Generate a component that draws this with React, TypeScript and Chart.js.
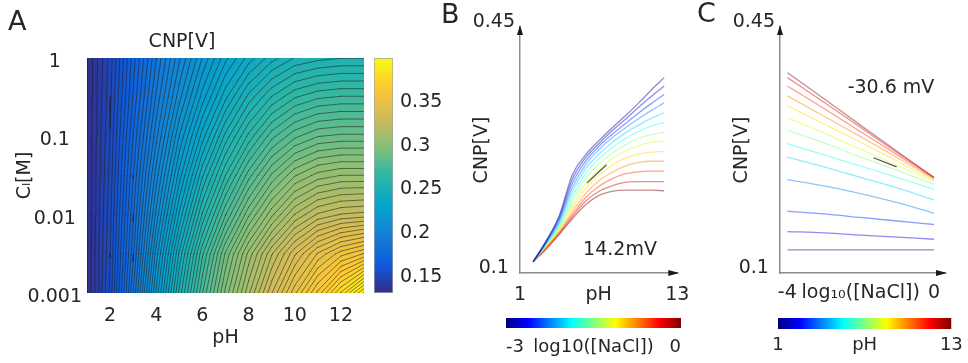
import React, { useEffect, useRef } from 'react';
import { Chart, registerables } from 'chart.js';

Chart.register(...registerables);

const FONT = "'DejaVu Sans', 'Liberation Sans', sans-serif";
const INK = '#262626';
Chart.defaults.font.family = FONT;
Chart.defaults.color = INK;

// ---------------- Panel A : CNP[V] map (pH x log10 C) ----------------
const gridPH = [1, 2, 3, 4, 5, 6, 7, 8, 9, 10, 11, 12, 13];
const gridLogC = [-3, -2.5, -2, -1.5, -1, -0.5, 0];
const mapRowLogCm30 = [0.135, 0.156, 0.188, 0.222, 0.252, 0.277, 0.298, 0.316, 0.333, 0.349, 0.364, 0.380, 0.397];
const mapRowLogCm25 = [0.135, 0.155, 0.184, 0.216, 0.245, 0.270, 0.291, 0.308, 0.323, 0.336, 0.347, 0.355, 0.360];
const mapRowLogCm20 = [0.135, 0.154, 0.181, 0.209, 0.235, 0.258, 0.277, 0.293, 0.306, 0.317, 0.324, 0.327, 0.328];
const mapRowLogCm15 = [0.135, 0.153, 0.178, 0.203, 0.226, 0.247, 0.264, 0.279, 0.291, 0.300, 0.305, 0.307, 0.307];
const mapRowLogCm10 = [0.135, 0.152, 0.175, 0.197, 0.218, 0.236, 0.252, 0.265, 0.276, 0.283, 0.287, 0.288, 0.288];
const mapRowLogCm05 = [0.135, 0.151, 0.172, 0.192, 0.210, 0.226, 0.240, 0.252, 0.261, 0.267, 0.270, 0.271, 0.271];
const mapRowLogC00 = [0.135, 0.150, 0.170, 0.188, 0.204, 0.218, 0.230, 0.239, 0.246, 0.251, 0.253, 0.254, 0.254];
const mapRows = [mapRowLogCm30, mapRowLogCm25, mapRowLogCm20, mapRowLogCm15, mapRowLogCm10, mapRowLogCm05, mapRowLogC00];
const mapColorMin = 0.132;
const mapColorMax = 0.4;
const mapContourStep = 0.0033;
const mapXTicks = [2, 4, 6, 8, 10, 12];
const mapYTicks = [0.001, 0.01, 0.1, 1];
const mapBarTicks = [0.15, 0.2, 0.25, 0.3, 0.35];
const parulaHex = ['#352a87', '#0f5cdd', '#1481d6', '#06a4ca', '#2eb7a4', '#87bf77', '#d1bb59', '#fec832', '#f9fb0e'];

// ---------------- Panel B : CNP vs pH for several [NaCl] ----------------
const phB = [2, 3, 4, 5, 6, 7, 8, 9, 10, 11, 12];
const naclLogB = [-3, -2.75, -2.5, -2.25, -2, -1.75, -1.5, -1.25, -1, -0.75, -0.5, -0.25, 0];
const cnpBm300 = [0.116, 0.146, 0.182, 0.240, 0.268, 0.288, 0.306, 0.323, 0.341, 0.360, 0.378];
const cnpBm275 = [0.116, 0.145, 0.180, 0.234, 0.264, 0.284, 0.302, 0.318, 0.335, 0.351, 0.366];
const cnpBm250 = [0.116, 0.144, 0.177, 0.228, 0.259, 0.280, 0.297, 0.312, 0.327, 0.341, 0.354];
const cnpBm225 = [0.116, 0.143, 0.174, 0.222, 0.254, 0.275, 0.292, 0.306, 0.319, 0.331, 0.342];
const cnpBm200 = [0.116, 0.142, 0.171, 0.216, 0.248, 0.269, 0.285, 0.299, 0.310, 0.320, 0.328];
const cnpBm175 = [0.116, 0.141, 0.168, 0.209, 0.241, 0.262, 0.278, 0.291, 0.301, 0.309, 0.314];
const cnpBm150 = [0.116, 0.140, 0.165, 0.203, 0.234, 0.255, 0.270, 0.282, 0.291, 0.297, 0.300];
const cnpBm125 = [0.116, 0.139, 0.163, 0.197, 0.227, 0.247, 0.262, 0.273, 0.281, 0.286, 0.288];
const cnpBm100 = [0.116, 0.138, 0.161, 0.192, 0.220, 0.239, 0.253, 0.263, 0.269, 0.272, 0.273];
const cnpBm075 = [0.116, 0.137, 0.159, 0.187, 0.213, 0.231, 0.243, 0.252, 0.257, 0.259, 0.259];
const cnpBm050 = [0.116, 0.136, 0.158, 0.183, 0.207, 0.223, 0.234, 0.241, 0.244, 0.245, 0.245];
const cnpBm025 = [0.116, 0.135, 0.156, 0.180, 0.202, 0.216, 0.224, 0.229, 0.230, 0.230, 0.230];
const cnpBp000 = [0.116, 0.134, 0.155, 0.177, 0.197, 0.210, 0.216, 0.218, 0.218, 0.218, 0.217];
const curvesB = [cnpBm300, cnpBm275, cnpBm250, cnpBm225, cnpBm200, cnpBm175, cnpBm150, cnpBm125, cnpBm100, cnpBm075, cnpBm050, cnpBm025, cnpBp000];
const slopeBPH = [6.1, 7.6];
const slopeBCNP = [0.228, 0.254];
const xTicksB = [1, 7, 13];
const yTicksBC = [0.1, 0.45];

// ---------------- Panel C : CNP vs log10[NaCl] for several pH ----------------
const logCC = [-4, -3, -2, -1, 0];
const phC = [1, 2, 3, 4, 5, 6, 7, 8, 9, 10, 11, 12, 13];
const cnpCpH1 = [0.133, 0.133, 0.133, 0.133, 0.133];
const cnpCpH2 = [0.159, 0.157, 0.154, 0.151, 0.148];
const cnpCpH3 = [0.188, 0.184, 0.179, 0.174, 0.169];
const cnpCpH4 = [0.233, 0.224, 0.213, 0.200, 0.185];
const cnpCpH5 = [0.265, 0.251, 0.236, 0.221, 0.204];
const cnpCpH6 = [0.284, 0.268, 0.252, 0.236, 0.219];
const cnpCpH7 = [0.303, 0.285, 0.265, 0.246, 0.226];
const cnpCpH8 = [0.321, 0.299, 0.276, 0.253, 0.230];
const cnpCpH9 = [0.338, 0.312, 0.286, 0.259, 0.232];
const cnpCpH10 = [0.352, 0.323, 0.294, 0.264, 0.234];
const cnpCpH11 = [0.366, 0.334, 0.301, 0.268, 0.235];
const cnpCpH12 = [0.378, 0.343, 0.307, 0.271, 0.236];
const cnpCpH13 = [0.385, 0.348, 0.310, 0.273, 0.236];
const curvesC = [cnpCpH1, cnpCpH2, cnpCpH3, cnpCpH4, cnpCpH5, cnpCpH6, cnpCpH7, cnpCpH8, cnpCpH9, cnpCpH10, cnpCpH11, cnpCpH12, cnpCpH13];
const slopeCLog = [-1.65, -1.02];
const slopeCCNP = [0.264, 0.251];
const xTicksC = [-4, -2, 0];

// ---------------- helpers ----------------
const clamp01 = (v: number) => Math.max(0, Math.min(1, v));
function jet(t: number): number[] {
  return [
    clamp01(Math.min(4 * t - 1.5, -4 * t + 4.5)),
    clamp01(Math.min(4 * t - 0.5, -4 * t + 3.5)),
    clamp01(Math.min(4 * t + 0.5, -4 * t + 2.5)),
  ];
}
const rgba = (c: number[], a: number) =>
  `rgba(${Math.round(c[0] * 255)},${Math.round(c[1] * 255)},${Math.round(c[2] * 255)},${a})`;
const parulaRGB = parulaHex.map((h) => [parseInt(h.slice(1, 3), 16), parseInt(h.slice(3, 5), 16), parseInt(h.slice(5, 7), 16)]);
function parula(f: number): number[] {
  const p = clamp01(f) * (parulaRGB.length - 1);
  const i = Math.min(parulaRGB.length - 2, Math.floor(p));
  const t = p - i;
  const a = parulaRGB[i], b = parulaRGB[i + 1];
  return [a[0] + (b[0] - a[0]) * t, a[1] + (b[1] - a[1]) * t, a[2] + (b[2] - a[2]) * t];
}
function locate(arr: number[], v: number): [number, number] {
  let i = 0;
  while (i < arr.length - 2 && v > arr[i + 1]) i++;
  return [i, clamp01((v - arr[i]) / (arr[i + 1] - arr[i]))];
}
function mapValue(ph: number, lc: number) {
  const [i, tx] = locate(gridPH, ph);
  const [j, ty] = locate(gridLogC, lc);
  const v00 = mapRows[j][i], v10 = mapRows[j][i + 1], v01 = mapRows[j + 1][i], v11 = mapRows[j + 1][i + 1];
  return (v00 * (1 - tx) + v10 * tx) * (1 - ty) + (v01 * (1 - tx) + v11 * tx) * ty;
}
function contourData() {
  const pts: any[] = [];
  for (let L = mapColorMin + mapContourStep; L < mapColorMax; L += mapContourStep) {
    for (let j = 0; j < gridLogC.length - 1; j++) {
      for (let i = 0; i < gridPH.length - 1; i++) {
        const c = [
          [gridPH[i], gridLogC[j], mapRows[j][i]],
          [gridPH[i + 1], gridLogC[j], mapRows[j][i + 1]],
          [gridPH[i + 1], gridLogC[j + 1], mapRows[j + 1][i + 1]],
          [gridPH[i], gridLogC[j + 1], mapRows[j + 1][i]],
        ];
        const cross: any[] = [];
        for (let k = 0; k < 4; k++) {
          const a = c[k], b = c[(k + 1) % 4];
          if ((a[2] < L) !== (b[2] < L)) {
            const t = (L - a[2]) / (b[2] - a[2]);
            cross.push({ x: a[0] + t * (b[0] - a[0]), y: Math.pow(10, a[1] + t * (b[1] - a[1])) });
          }
        }
        for (let k = 0; k + 1 < cross.length; k += 2) pts.push(cross[k], cross[k + 1], { x: cross[k].x, y: null });
      }
    }
  }
  return pts;
}

const heatmapPlugin = {
  id: 'cnpMap',
  beforeDatasetsDraw(chart: any) {
    const { ctx, chartArea: a, scales } = chart;
    const xs = scales.x, ys = scales.y;
    const w = Math.round(a.right - a.left), h = Math.round(a.bottom - a.top);
    const off = document.createElement('canvas');
    off.width = w; off.height = h;
    const octx = off.getContext('2d')!;
    const img = octx.createImageData(w, h);
    for (let py = 0; py < h; py++) {
      const lc = Math.log10(ys.getValueForPixel(a.top + py + 0.5));
      for (let px = 0; px < w; px++) {
        const ph = xs.getValueForPixel(a.left + px + 0.5);
        const col = parula((mapValue(ph, lc) - mapColorMin) / (mapColorMax - mapColorMin));
        const o = (py * w + px) * 4;
        img.data[o] = col[0]; img.data[o + 1] = col[1]; img.data[o + 2] = col[2]; img.data[o + 3] = 255;
      }
    }
    octx.putImageData(img, 0, 0);
    ctx.drawImage(off, a.left, a.top);
  },
};

const arrowPlugin = {
  id: 'axisArrows',
  afterDraw(chart: any) {
    const { ctx, chartArea: a } = chart;
    ctx.save();
    ctx.fillStyle = '#1a1a1a';
    ctx.beginPath();
    ctx.moveTo(a.left, a.top - 2);
    ctx.lineTo(a.left - 3, a.top + 8);
    ctx.lineTo(a.left + 3, a.top + 8);
    ctx.closePath();
    ctx.fill();
    ctx.beginPath();
    ctx.moveTo(a.right + 2, a.bottom);
    ctx.lineTo(a.right - 9, a.bottom - 3);
    ctx.lineTo(a.right - 9, a.bottom + 3);
    ctx.closePath();
    ctx.fill();
    ctx.restore();
  },
};

const f19 = { family: FONT, size: 19 };
const f18 = { family: FONT, size: 18 };
const noGrid = { display: false, drawTicks: false };
const baseOpts = {
  animation: false,
  responsive: false,
  events: [],
  plugins: { legend: { display: false }, tooltip: { enabled: false } },
};
const setTicks = (vals: number[]) => (s: any) => { s.ticks = vals.map((v) => ({ value: v })); };

function configA(): any {
  return {
    type: 'scatter',
    data: {
      datasets: [{
        data: contourData(), showLine: true, pointRadius: 0, spanGaps: false,
        borderColor: 'rgba(30,30,30,0.72)', borderWidth: 0.75, borderCapStyle: 'round',
      }],
    },
    options: {
      ...baseOpts,
      layout: { padding: { left: 0, right: 6, top: 0, bottom: 0 } },
      plugins: {
        ...baseOpts.plugins,
        title: { display: true, text: 'CNP[V]', color: INK, font: { ...f19, weight: 'normal' }, padding: { top: 31, bottom: 4.2 } },
      },
      scales: {
        x: {
          type: 'linear', min: 1, max: 13,
          afterBuildTicks: setTicks(mapXTicks),
          afterFit: (s: any) => { s.height = 70; },
          grid: noGrid, border: { display: false },
          ticks: { color: INK, font: f19, padding: 12, maxRotation: 0, autoSkip: false },
          title: { display: true, text: 'pH', color: INK, font: f19, padding: { top: 0, bottom: 14 } },
        },
        y: {
          type: 'logarithmic', min: 0.001, max: 1,
          afterBuildTicks: setTicks(mapYTicks),
          afterFit: (s: any) => { s.width = 87; },
          grid: noGrid, border: { display: false },
          ticks: { color: INK, font: f19, padding: 5, crossAlign: 'center', labelOffset: 4, autoSkip: false, callback: (v: any) => String(v) },
          title: { display: true, text: 'Cₗ[M]', color: INK, font: f19, padding: { top: 13.6, bottom: 0 } },
        },
      },
    },
    plugins: [heatmapPlugin],
  };
}

function configABar(): any {
  return {
    type: 'bar',
    data: {
      labels: ['CNP'],
      datasets: [{
        data: [[mapColorMin, mapColorMax]],
        barPercentage: 1, categoryPercentage: 1,
        borderWidth: 1, borderColor: '#a3a3a3', borderSkipped: false,
        backgroundColor: (c: any) => {
          const ch = c.chart; const a = ch.chartArea;
          if (!a) return '#888';
          const ys = ch.scales.y;
          const g = ch.ctx.createLinearGradient(0, ys.getPixelForValue(mapColorMin), 0, ys.getPixelForValue(mapColorMax));
          parulaHex.forEach((h, k) => g.addColorStop(k / (parulaHex.length - 1), h));
          return g;
        },
      }],
    },
    options: {
      ...baseOpts,
      layout: { padding: { left: 10, right: 0, top: 58, bottom: 70 } },
      scales: {
        x: { display: false },
        y: {
          type: 'linear', position: 'right', min: mapColorMin, max: mapColorMax,
          afterBuildTicks: setTicks(mapBarTicks),
          afterFit: (s: any) => { s.width = 61; },
          grid: noGrid, border: { display: false },
          ticks: { color: INK, font: f19, padding: 7, autoSkip: false, callback: (v: any) => String(Number(v.toFixed(2))) },
        },
      },
    },
  };
}

function lineDataset(xs: number[], ys: number[], color: string, width: number) {
  return {
    data: xs.map((x, k) => ({ x, y: ys[k] })),
    showLine: true, pointRadius: 0, borderColor: color, borderWidth: width,
    cubicInterpolationMode: 'monotone',
  };
}

function arrowScales(xMin: number, xMax: number, xTicks: number[], xLabel: (v: number) => string, xPad: number) {
  return {
    x: {
      type: 'linear', min: xMin, max: xMax,
      afterBuildTicks: setTicks(xTicks),
      afterFit: (s: any) => { s.height = 37; },
      grid: noGrid, border: { display: true, color: '#8c8c8c', width: 1.5 },
      ticks: { color: INK, font: f19, padding: xPad, maxRotation: 0, autoSkip: false, callback: (v: any) => xLabel(v) },
    },
    y: {
      type: 'linear', min: 0.1, max: 0.45,
      afterBuildTicks: setTicks(yTicksBC),
      afterFit: (s: any) => { s.width = 80; },
      grid: noGrid, border: { display: true, color: '#8c8c8c', width: 1.5 },
      ticks: { color: INK, font: f19, padding: 5, crossAlign: 'center', labelOffset: -5, autoSkip: false, callback: (v: any) => String(v) },
      title: { display: true, text: 'CNP[V]', color: INK, font: f19, padding: { top: 30.6, bottom: 0 } },
    },
  };
}

function configB(): any {
  const ds: any[] = curvesB.map((arr, i) =>
    lineDataset(phB, arr, rgba(jet((naclLogB[i] + 3) / 3), 0.45), 1.3));
  ds.push({ ...lineDataset(slopeBPH, slopeBCNP, '#555555', 1.3), cubicInterpolationMode: 'default' });
  return {
    type: 'scatter',
    data: { datasets: ds },
    options: {
      ...baseOpts,
      layout: { padding: { left: 0, right: 17, top: 27, bottom: 0 } },
      scales: arrowScales(1, 13, xTicksB, (v) => (v === 7 ? 'pH' : String(v)), 10.6),
    },
    plugins: [arrowPlugin],
  };
}

function configC(): any {
  const ds: any[] = curvesC.map((arr, i) =>
    lineDataset(logCC, arr, rgba(jet((phC[i] - 1) / 12), 0.45), 1.3));
  ds.push({ ...lineDataset(slopeCLog, slopeCCNP, '#555555', 1.3), cubicInterpolationMode: 'default' });
  return {
    type: 'scatter',
    data: { datasets: ds },
    options: {
      ...baseOpts,
      layout: { padding: { left: 0, right: 23, top: 27, bottom: 0 } },
      scales: arrowScales(-4.2, 0.3, xTicksC, (v) => (v === -2 ? 'log₁₀([NaCl])' : String(v)), 8.6),
    },
    plugins: [arrowPlugin],
  };
}

function configJetBar(min: number, max: number, ticks: number[], label: (v: number) => string,
  pad: any, axisH: number, tickPad: number, align: string): any {
  return {
    type: 'bar',
    data: {
      labels: ['cb'],
      datasets: [{
        data: [[min, max]], barPercentage: 1, categoryPercentage: 1, borderWidth: 0,
        backgroundColor: (c: any) => {
          const ch = c.chart; const a = ch.chartArea;
          if (!a) return '#888';
          const xs = ch.scales.x;
          const g = ch.ctx.createLinearGradient(xs.getPixelForValue(min), 0, xs.getPixelForValue(max), 0);
          for (let k = 0; k <= 16; k++) g.addColorStop(k / 16, rgba(jet(k / 16), 1));
          return g;
        },
      }],
    },
    options: {
      ...baseOpts,
      indexAxis: 'y',
      layout: { padding: pad },
      scales: {
        y: { display: false },
        x: {
          type: 'linear', min, max,
          afterBuildTicks: setTicks(ticks),
          afterFit: (s: any) => { s.height = axisH; },
          grid: noGrid, border: { display: false },
          ticks: { color: INK, font: f18, padding: tickPad, align, maxRotation: 0, autoSkip: false, callback: (v: any) => label(v) },
        },
      },
    },
  };
}

const abs = (left: number, top: number, w: number, h: number): any => ({ position: 'absolute', left, top, width: w, height: h });
const txt = (left: number, top: number, size: number): any => ({
  position: 'absolute', left, top, fontSize: size, lineHeight: `${size}px`, fontFamily: FONT, color: INK, whiteSpace: 'nowrap',
});
const ctxt = (cx: number, cy: number, size: number): any => ({
  ...txt(cx, cy, size), transform: 'translate(-50%, -50%)',
});

export default function App() {
  const rA = useRef<HTMLCanvasElement>(null);
  const rAB = useRef<HTMLCanvasElement>(null);
  const rB = useRef<HTMLCanvasElement>(null);
  const rBB = useRef<HTMLCanvasElement>(null);
  const rC = useRef<HTMLCanvasElement>(null);
  const rCB = useRef<HTMLCanvasElement>(null);

  useEffect(() => {
    document.body.style.margin = '0';
    const charts = [
      new Chart(rA.current!, configA()),
      new Chart(rAB.current!, configABar()),
      new Chart(rB.current!, configB()),
      new Chart(rBB.current!, configJetBar(-3, 0, [-3, -1.5, 0], (v) => (v === -1.5 ? 'log10([NaCl])' : String(v)),
        { left: 26, right: 19, top: 18, bottom: 0 }, 35, 8.2, 'inner')),
      new Chart(rC.current!, configC()),
      new Chart(rCB.current!, configJetBar(1, 13, [1, 7, 13], (v) => (v === 7 ? 'pH' : String(v)),
        { left: 18, right: 13, top: 18, bottom: 0 }, 34, 5.2, 'center')),
    ];
    return () => charts.forEach((c) => c.destroy());
  }, []);

  return (
    <div style={{ position: 'fixed', left: 0, top: 0, width: 968, height: 363, background: '#ffffff', overflow: 'hidden' }}>
      <canvas ref={rA} width={370} height={363} style={abs(0, 0, 370, 363)} />
      <canvas ref={rAB} width={90} height={363} style={abs(364, 0, 90, 363)} />
      <canvas ref={rB} width={260} height={310} style={abs(440, 0, 260, 310)} />
      <canvas ref={rBB} width={220} height={63} style={abs(480, 300, 220, 63)} />
      <canvas ref={rC} width={268} height={310} style={abs(700, 0, 268, 310)} />
      <canvas ref={rCB} width={208} height={63} style={abs(760, 300, 208, 63)} />
      <div style={txt(8, 7, 27)}>A</div>
      <div style={txt(441, 0, 27)}>B</div>
      <div style={txt(697, -1, 27)}>C</div>
      <div style={ctxt(620, 248, 19)}>14.2mV</div>
      <div style={ctxt(891, 86, 19)}>-30.6 mV</div>
    </div>
  );
}
